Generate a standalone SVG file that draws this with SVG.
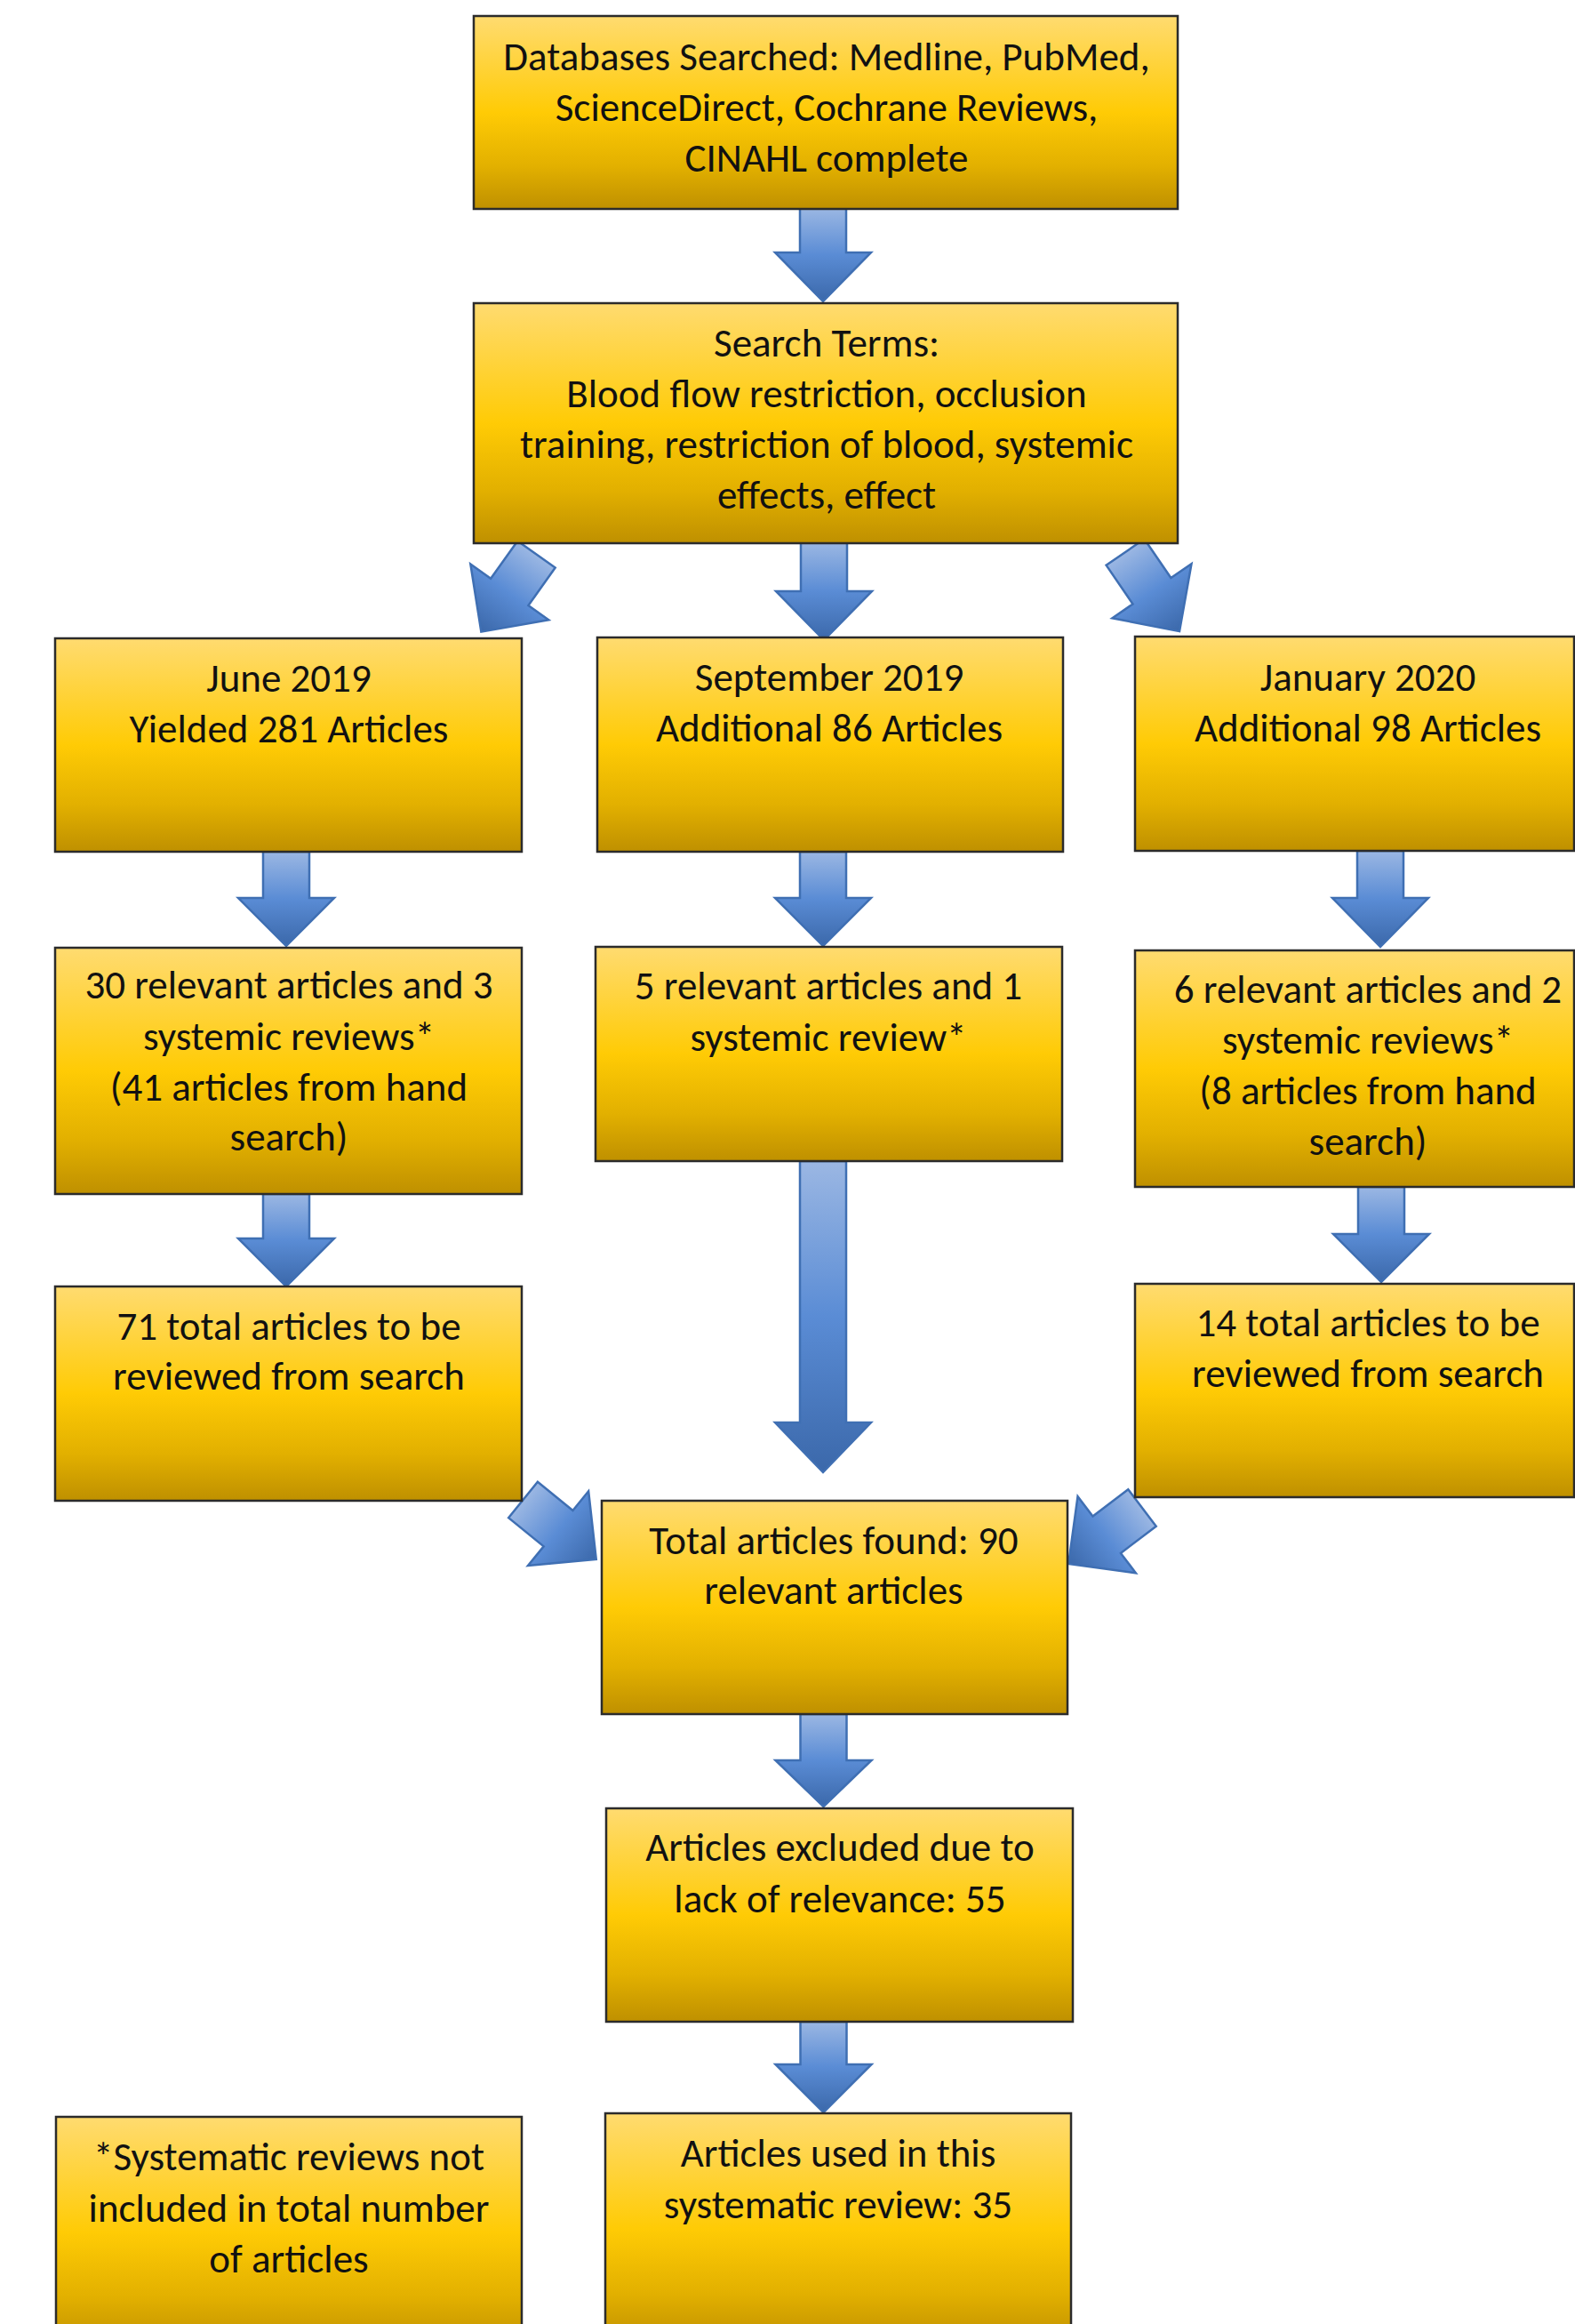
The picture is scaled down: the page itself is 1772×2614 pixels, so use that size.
<svg xmlns="http://www.w3.org/2000/svg" width="1772" height="2614" viewBox="0 0 1772 2614">
<style>
.box{fill:url(#gold);stroke:#2b2b2b;stroke-width:2.5}
.t{font-family:Calibri,Carlito,Lato,"Liberation Sans",sans-serif;font-size:45px;fill:#111;text-anchor:middle}
.arr{fill:url(#blue);stroke:#3f6fb3;stroke-width:2.5;stroke-linejoin:miter}
</style>
<defs>
<linearGradient id="gold" x1="0" y1="0" x2="0" y2="1">
<stop offset="0" stop-color="#FFDB70"/>
<stop offset="0.5" stop-color="#FFCB05"/>
<stop offset="0.78" stop-color="#E2B000"/>
<stop offset="1" stop-color="#BF9000"/>
</linearGradient>
<linearGradient id="blue" x1="0" y1="0" x2="0" y2="1">
<stop offset="0" stop-color="#9BB7E3"/>
<stop offset="0.5" stop-color="#5A8CD5"/>
<stop offset="1" stop-color="#3B68AA"/>
</linearGradient>
</defs>
<rect width="1772" height="2614" fill="#fff"/>

<g id="connectors">
<path class="arr" transform="translate(926,234)" d="M-26,0H26V50H54L0,105L-54,50H-26Z"/>
<path class="arr" transform="translate(927,610)" d="M-26,0H26V55H54L0,110L-54,55H-26Z"/>
<path class="arr" transform="translate(603.5,623.5) rotate(35.5)" d="M-26,0H26V52H54L0,107L-54,52H-26Z"/>
<path class="arr" transform="translate(1266,621) rotate(-34.4)" d="M-26,0H26V53H54L0,108L-54,53H-26Z"/>
<path class="arr" transform="translate(322,958)" d="M-26,0H26V52H54L0,106L-54,52H-26Z"/>
<path class="arr" transform="translate(926,958)" d="M-26,0H26V52H54L0,106L-54,52H-26Z"/>
<path class="arr" transform="translate(1553,957)" d="M-26,0H26V53H54L0,108L-54,53H-26Z"/>
<path class="arr" transform="translate(322,1343)" d="M-26,0H26V50H54L0,104L-54,50H-26Z"/>
<path class="arr" transform="translate(926,1306)" d="M-26,0H26V294H54L0,350L-54,294H-26Z"/>
<path class="arr" transform="translate(1554,1335)" d="M-26,0H26V53H54L0,107L-54,53H-26Z"/>
<path class="arr" transform="translate(588.5,1687) rotate(-50.9)" d="M-26,0H26V51H54L0,106L-54,51H-26Z"/>
<path class="arr" transform="translate(1285,1696) rotate(52.8)" d="M-26,0H26V50H54L0,104L-54,50H-26Z"/>
<path class="arr" transform="translate(926.5,1928)" d="M-26,0H26V52H54L0,104L-54,52H-26Z"/>
<path class="arr" transform="translate(926.5,2274)" d="M-26,0H26V48H54L0,102L-54,48H-26Z"/>
</g>

<g id="databases">
<rect class="box" x="533" y="18" width="792" height="217"/>
<text class="t" x="930" y="79">Databases Searched: Medline, PubMed,</text>
<text class="t" x="930" y="136">ScienceDirect, Cochrane Reviews,</text>
<text class="t" x="930" y="193">CINAHL complete</text>
</g>

<g id="search-terms">
<rect class="box" x="533" y="341" width="792" height="270"/>
<text class="t" x="930" y="401">Search Terms:</text>
<text class="t" x="930" y="458">Blood flow restriction, occlusion</text>
<text class="t" x="930" y="515">training, restriction of blood, systemic</text>
<text class="t" x="930" y="572">effects, effect</text>
</g>

<g id="june-2019">
<rect class="box" x="62" y="718" width="525" height="240"/>
<text class="t" x="325" y="778">June 2019</text>
<text class="t" x="325" y="835">Yielded 281 Articles</text>
</g>

<g id="september-2019">
<rect class="box" x="672" y="717" width="524" height="241"/>
<text class="t" x="933" y="777">September 2019</text>
<text class="t" x="933" y="834">Additional 86 Articles</text>
</g>

<g id="january-2020">
<rect class="box" x="1277" y="716" width="494" height="241"/>
<text class="t" x="1539" y="777">January 2020</text>
<text class="t" x="1539" y="834">Additional 98 Articles</text>
</g>

<g id="june-relevant">
<rect class="box" x="62" y="1066" width="525" height="277"/>
<text class="t" x="325" y="1123">30 relevant articles and 3</text>
<text class="t" x="325" y="1181">systemic reviews*</text>
<text class="t" x="325" y="1238">(41 articles from hand</text>
<text class="t" x="325" y="1294">search)</text>
</g>

<g id="september-relevant">
<rect class="box" x="670" y="1065" width="525" height="241"/>
<text class="t" x="932" y="1124">5 relevant articles and 1</text>
<text class="t" x="932" y="1182">systemic review*</text>
</g>

<g id="january-relevant">
<rect class="box" x="1277" y="1069" width="494" height="266"/>
<text class="t" x="1539" y="1128">6 relevant articles and 2</text>
<text class="t" x="1539" y="1185">systemic reviews*</text>
<text class="t" x="1539" y="1242">(8 articles from hand</text>
<text class="t" x="1539" y="1299">search)</text>
</g>

<g id="june-total">
<rect class="box" x="62" y="1447" width="525" height="241"/>
<text class="t" x="325" y="1507">71 total articles to be</text>
<text class="t" x="325" y="1563">reviewed from search</text>
</g>

<g id="january-total">
<rect class="box" x="1277" y="1444" width="494" height="240"/>
<text class="t" x="1539" y="1503">14 total articles to be</text>
<text class="t" x="1539" y="1560">reviewed from search</text>
</g>

<g id="total-found">
<rect class="box" x="677" y="1688" width="524" height="240"/>
<text class="t" x="938" y="1748">Total articles found: 90</text>
<text class="t" x="938" y="1804">relevant articles</text>
</g>

<g id="excluded">
<rect class="box" x="682" y="2034" width="525" height="240"/>
<text class="t" x="945" y="2093">Articles excluded due to</text>
<text class="t" x="945" y="2151">lack of relevance: 55</text>
</g>

<g id="used">
<rect class="box" x="681" y="2377" width="524" height="260"/>
<text class="t" x="943" y="2437">Articles used in this</text>
<text class="t" x="943" y="2495">systematic review: 35</text>
</g>

<g id="footnote">
<rect class="box" x="63" y="2381" width="524" height="260"/>
<text class="t" x="325" y="2441">*Systematic reviews not</text>
<text class="t" x="325" y="2499">included in total number</text>
<text class="t" x="325" y="2556">of articles</text>
</g>
</svg>
